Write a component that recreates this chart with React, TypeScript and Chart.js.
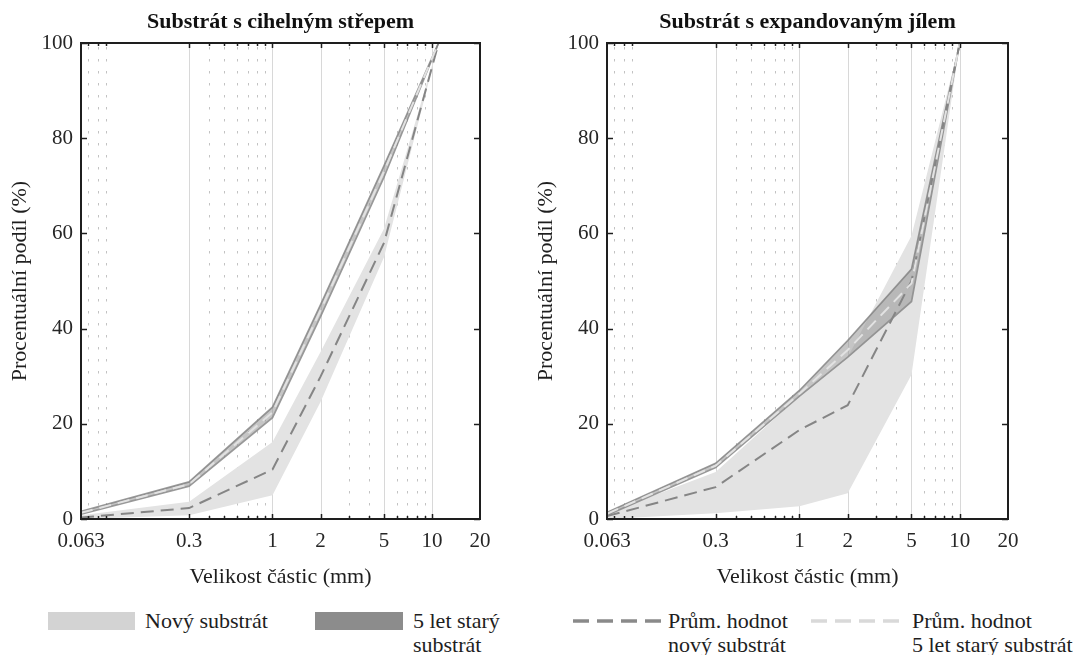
import React, { useEffect, useRef } from "react";
import { Chart, registerables } from "chart.js";
Chart.register(...registerables);

const FONT = '"Liberation Serif", "Times New Roman", serif';

// ---- data ----
const sizesBrick = [0.063, 0.3, 1, 2, 5, 11];
const sizesClay = [0.063, 0.3, 1, 2, 5, 10];
const xTickValues = [0.063, 0.3, 1, 2, 5, 10, 20];
const xTickLabels = ["0.063", "0.3", "1", "2", "5", "10", "20"];
const majorGrid = [0.3, 1, 2, 5, 10];
const minorGrid = [0.07, 0.08, 0.09, 0.4, 0.5, 0.6, 0.7, 0.8, 0.9, 3, 4, 6, 7, 8, 9];
const yTicks = [0, 20, 40, 60, 80, 100];

// Substrát s cihelným střepem
const brickNewLow = [0, 0.8, 5.0, 24.6, 55.0, 100];
const brickNewHigh = [0.8, 3.6, 16.2, 35.1, 61.0, 100];
const brickNewMean = [0.3, 2.3, 10.4, 29.9, 58.0, 100];
const brickOldLow = [1.0, 6.9, 21.3, 42.5, 71.8, 100];
const brickOldHigh = [1.6, 7.8, 23.5, 45.0, 74.2, 100];
const brickOldMean = [1.3, 7.3, 22.4, 43.8, 73.0, 100];

// Substrát s expandovaným jílem
const clayNewLow = [0, 1.2, 2.7, 5.4, 30.3, 100];
const clayNewHigh = [1.2, 9.9, 25.8, 34.0, 59.5, 100];
const clayNewMean = [0.6, 6.7, 18.7, 23.9, 50.0, 100];
const clayOldLow = [0.8, 10.8, 25.8, 34.0, 45.7, 100];
const clayOldHigh = [1.4, 11.7, 27.0, 37.5, 52.5, 100];
const clayOldMean = [1.1, 11.2, 26.3, 35.5, 49.5, 100];

const framePlugin = {
  id: "frame",
  beforeDatasetsDraw(chart: any) {
    const { ctx, chartArea: a, scales } = chart;
    const x = scales.x;
    ctx.save();
    ctx.lineWidth = 1;
    ctx.strokeStyle = "#d8d8d8";
    majorGrid.forEach((v) => {
      const px = Math.round(x.getPixelForValue(v)) + 0.5;
      ctx.beginPath();
      ctx.moveTo(px, a.top);
      ctx.lineTo(px, a.bottom);
      ctx.stroke();
    });
    ctx.setLineDash([2.5, 9.5]);
    ctx.strokeStyle = "#c2c2c2";
    minorGrid.forEach((v) => {
      const px = Math.round(x.getPixelForValue(v)) + 0.5;
      ctx.beginPath();
      ctx.moveTo(px, a.top + 4);
      ctx.lineTo(px, a.bottom);
      ctx.stroke();
    });
    ctx.restore();
  },
  afterDatasetsDraw(chart: any, _args: any, opts: any) {
    const { ctx, chartArea: a, scales } = chart;
    const x = scales.x;
    const y = scales.y;
    ctx.save();
    ctx.strokeStyle = "#1e1e1e";
    ctx.lineWidth = 1.5;
    const tick = (x1: number, y1: number, x2: number, y2: number) => {
      ctx.beginPath();
      ctx.moveTo(x1, y1);
      ctx.lineTo(x2, y2);
      ctx.stroke();
    };
    majorGrid.forEach((v) => {
      const px = Math.round(x.getPixelForValue(v)) + 0.5;
      tick(px, a.bottom, px, a.bottom - 5);
      tick(px, a.top, px, a.top + 5);
    });
    minorGrid.forEach((v) => {
      const px = Math.round(x.getPixelForValue(v)) + 0.5;
      tick(px, a.bottom, px, a.bottom - 3);
      tick(px, a.top, px, a.top + 3);
    });
    yTicks.forEach((v) => {
      const py = Math.round(y.getPixelForValue(v)) + 0.5;
      tick(a.left, py, a.left + 6, py);
      tick(a.right, py, a.right - 6, py);
    });
    ctx.lineWidth = 2;
    ctx.strokeRect(a.left, a.top, a.right - a.left, a.bottom - a.top);
    ctx.fillStyle = "#111";
    ctx.font = `bold 22px ${FONT}`;
    ctx.textAlign = "center";
    ctx.textBaseline = "middle";
    ctx.fillText(opts.text, (a.left + a.right) / 2, 22);
    ctx.restore();
  },
};

type PanelProps = {
  left: number;
  padRight: number;
  title: string;
  xs: number[];
  newLow: number[];
  newHigh: number[];
  newMean: number[];
  oldLow: number[];
  oldHigh: number[];
  oldMean: number[];
};

function Panel(p: PanelProps) {
  const ref = useRef<HTMLCanvasElement>(null);
  useEffect(() => {
    const pts = (ys: number[]) => p.xs.map((x, i) => ({ x, y: ys[i] }));
    const base = { pointRadius: 0, tension: 0 };
    const chart = new Chart(ref.current as HTMLCanvasElement, {
      type: "line",
      data: {
        datasets: [
          { ...base, data: pts(p.oldMean), borderColor: "#e2e2e2", borderWidth: 2, borderDash: [12, 7], fill: false },
          { ...base, data: pts(p.newMean), borderColor: "#858585", borderWidth: 2, borderDash: [13, 7], fill: false },
          { ...base, data: pts(p.oldHigh), borderColor: "rgba(128,128,128,0.8)", borderWidth: 1.7, backgroundColor: "rgba(150,150,150,0.55)", fill: "+1" },
          { ...base, data: pts(p.oldLow), borderColor: "rgba(128,128,128,0.8)", borderWidth: 1.7, fill: false },
          { ...base, data: pts(p.newHigh), borderColor: "rgba(0,0,0,0)", borderWidth: 1, backgroundColor: "#e3e3e3", fill: "+1" },
          { ...base, data: pts(p.newLow), borderColor: "rgba(0,0,0,0)", borderWidth: 1, fill: false },
        ] as any,
      },
      options: {
        animation: false,
        responsive: false,
        maintainAspectRatio: false,
        layout: { padding: { top: 43, right: p.padRight, left: 0, bottom: 0 } },
        plugins: {
          legend: { display: false },
          tooltip: { enabled: false },
          frame: { text: p.title },
        } as any,
        scales: {
          x: {
            type: "logarithmic",
            min: 0.063,
            max: 20,
            afterBuildTicks: (s: any) => {
              s.ticks = xTickValues.map((v) => ({ value: v }));
            },
            afterFit: (s: any) => {
              s.height = 81;
            },
            grid: { display: false, drawTicks: false },
            border: { display: false },
            ticks: {
              autoSkip: false,
              maxRotation: 0,
              padding: 10,
              color: "#262626",
              font: { family: FONT, size: 21 },
              callback: (_v: any, i: number) => xTickLabels[i],
            },
            title: {
              display: true,
              text: "Velikost částic (mm)",
              color: "#1e1e1e",
              font: { family: FONT, size: 22 },
              padding: { top: 0, bottom: 10 },
            },
          } as any,
          y: {
            min: 0,
            max: 100,
            afterBuildTicks: (s: any) => {
              s.ticks = yTicks.map((v) => ({ value: v }));
            },
            afterFit: (s: any) => {
              s.width = 81;
            },
            grid: { display: false, drawTicks: false },
            border: { display: false },
            ticks: {
              padding: 8,
              color: "#262626",
              font: { family: FONT, size: 21 },
            },
            title: {
              display: true,
              text: "Procentuální podíl (%)",
              color: "#1e1e1e",
              font: { family: FONT, size: 22 },
              padding: { top: 7, bottom: 0 },
            },
          } as any,
        },
      },
      plugins: [framePlugin as any],
    });
    return () => chart.destroy();
  }, []);
  return (
    <canvas
      ref={ref}
      width={530}
      height={600}
      style={{ position: "absolute", left: p.left, top: 0, width: 530, height: 600 }}
    />
  );
}

const textStyle: React.CSSProperties = {
  position: "absolute",
  top: 609,
  fontFamily: FONT,
  fontSize: 22,
  lineHeight: "24px",
  color: "#1e1e1e",
  whiteSpace: "nowrap",
};

export default function App() {
  return (
    <div style={{ position: "absolute", left: 0, top: 0, width: 1074, height: 655, background: "#fff", overflow: "hidden" }}>
      <Panel
        left={0}
        padRight={50}
        title="Substrát s cihelným střepem"
        xs={sizesBrick}
        newLow={brickNewLow}
        newHigh={brickNewHigh}
        newMean={brickNewMean}
        oldLow={brickOldLow}
        oldHigh={brickOldHigh}
        oldMean={brickOldMean}
      />
      <Panel
        left={526}
        padRight={48}
        title="Substrát s expandovaným jílem"
        xs={sizesClay}
        newLow={clayNewLow}
        newHigh={clayNewHigh}
        newMean={clayNewMean}
        oldLow={clayOldLow}
        oldHigh={clayOldHigh}
        oldMean={clayOldMean}
      />
      <div style={{ position: "absolute", left: 48, top: 612, width: 87, height: 18, background: "#d3d3d3" }} />
      <div style={{ ...textStyle, left: 145 }}>Nový substrát</div>
      <div style={{ position: "absolute", left: 315, top: 612, width: 88, height: 18, background: "#8c8c8c" }} />
      <div style={{ ...textStyle, left: 413 }}>5 let starý<br />substrát</div>
      <svg style={{ position: "absolute", left: 573, top: 616 }} width={90} height={10}>
        <line x1={0} y1={5} x2={90} y2={5} stroke="#8a8a8a" strokeWidth={3.5} strokeDasharray="16 8" />
      </svg>
      <div style={{ ...textStyle, left: 668 }}>Prům. hodnot<br />nový substrát</div>
      <svg style={{ position: "absolute", left: 811, top: 616 }} width={92} height={10}>
        <line x1={0} y1={5} x2={92} y2={5} stroke="#d9d9d9" strokeWidth={3.5} strokeDasharray="16 8" />
      </svg>
      <div style={{ ...textStyle, left: 912 }}>Prům. hodnot<br />5 let starý substrát</div>
    </div>
  );
}
